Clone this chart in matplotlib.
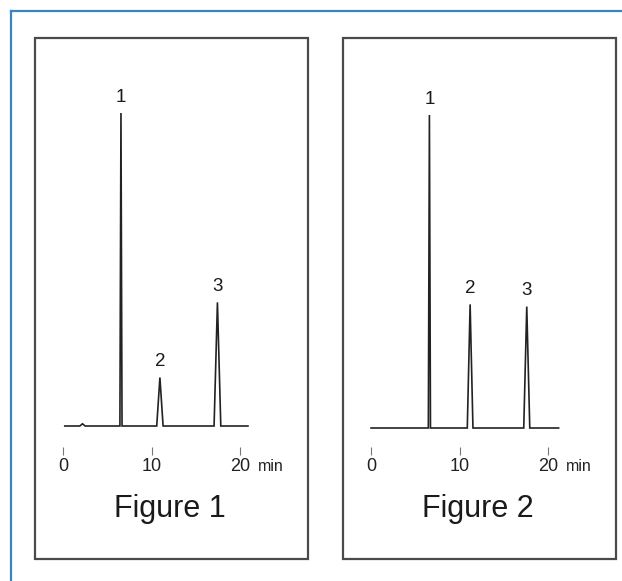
import matplotlib
matplotlib.use("Agg")
import matplotlib.pyplot as plt
from matplotlib.lines import Line2D
from matplotlib.patches import Rectangle

plt.rcParams['font.family'] = ['Liberation Sans', 'DejaVu Sans']

# ---- data ----
captions = ["Figure 1", "Figure 2"]
peak_labels = ["1", "2", "3"]
# retention times (min), heights (relative), half base widths (min)
fig1_times = [6.55, 10.95, 17.45]
fig1_heights = [100, 15.5, 39.5]
fig1_halfwidths = [0.12, 0.36, 0.38]
fig2_times = [6.6, 11.2, 17.6]
fig2_heights = [100, 39.5, 38.8]
fig2_halfwidths = [0.12, 0.32, 0.34]
# minor unlabeled bump in figure 1
fig1_minor_time = [2.2]
fig1_minor_height = [0.7]
run_start = [0.2, 0.0]
run_end = [20.9, 21.2]
xticks = [0, 10, 20]
xtick_labels = ["0", "10", "20"]
unit_label = "min"

W, H = 622, 581
fig = plt.figure(figsize=(W / 100, H / 100), dpi=100)
fig.patch.set_facecolor("white")

def fx(px):
    return px / W

def fy(py):
    return 1 - py / H

# outer blue frame (top and left)
blue = "#3b82c8"
fig.add_artist(Line2D([fx(11), 1.0], [fy(11), fy(11)], transform=fig.transFigure,
                      color=blue, lw=1.6))
fig.add_artist(Line2D([fx(11), fx(11)], [fy(11), 0.0], transform=fig.transFigure,
                      color=blue, lw=1.6))

def trace(times, heights, halfw, start, end, minor_t=(), minor_h=()):
    peaks = sorted([(t, h, w) for t, h, w in zip(times, heights, halfw)] +
                   [(t, h, 0.3) for t, h in zip(minor_t, minor_h)])
    xs, ys = [start], [0]
    for t, h, w in peaks:
        xs += [t - w, t, t + w]
        ys += [0, h, 0]
    xs.append(end)
    ys.append(0)
    return xs, ys

datasets = [
    (fig1_times, fig1_heights, fig1_halfwidths, fig1_minor_time, fig1_minor_height),
    (fig2_times, fig2_heights, fig2_halfwidths, [], []),
]

px_per_min = 8.85
px_per_unit = 3.13
for i, (times, heights, halfw, mt, mh) in enumerate(datasets):
    off = 308 * i
    # panel frame
    fig.add_artist(Rectangle((fx(35 + off), fy(559)), 273 / W, 521 / H,
                             transform=fig.transFigure, fill=False,
                             edgecolor="#4a4a4a", lw=1.6))
    left_px, right_px, bot_px, top_px = 50 + off, 265 + off, 451, 70
    zero_px = 63 + off
    base_px = 426 + 2 * i
    ax = fig.add_axes([fx(left_px), fy(bot_px), (right_px - left_px) / W,
                       (bot_px - top_px) / H])
    ax.set_xlim((left_px - zero_px) / px_per_min, (right_px - zero_px) / px_per_min)
    ax.set_ylim((base_px - bot_px) / px_per_unit, (base_px - top_px) / px_per_unit)
    ax.patch.set_alpha(0)
    for s in ax.spines.values():
        s.set_visible(False)
    ax.set_yticks([])
    ax.set_xticks(xticks)
    ax.set_xticklabels(xtick_labels)
    ax.tick_params(axis="x", direction="inout", length=6, width=0.8,
                   color="#777777", pad=2, labelsize=13, labelcolor="#222222")

    xs, ys = trace(times, heights, halfw, run_start[i], run_end[i], mt, mh)
    ax.plot(xs, ys, color="#222222", lw=1.2, solid_joinstyle="miter", clip_on=False)

    for t, h, lab in zip(times, heights, peak_labels):
        ax.annotate(lab, xy=(t, h), xytext=(0, 8), textcoords="offset points",
                    ha="center", va="baseline", fontsize=13.5, color="#1a1a1a")

    ax.annotate(unit_label, xy=(xticks[-1], 0), xycoords=ax.get_xaxis_transform(),
                xytext=(13, -14.5), textcoords="offset points", ha="left",
                va="baseline", fontsize=11.5, color="#222222")

    fig.text(fx(170 + off), fy(517), captions[i], ha="center", va="baseline",
             fontsize=22, color="#1a1a1a")

fig.savefig("out.png", dpi=100, facecolor="white")
